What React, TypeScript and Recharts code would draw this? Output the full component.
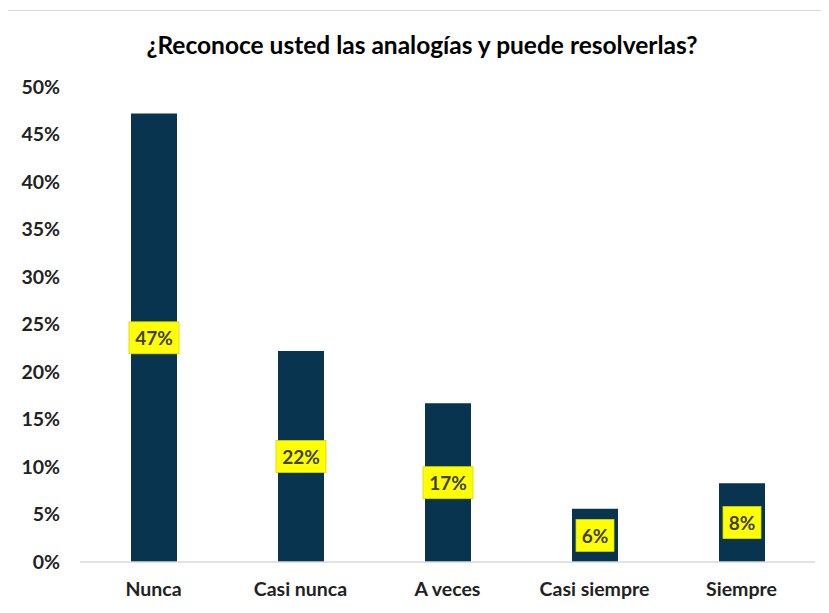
import React from "react";
import { BarChart, Bar, XAxis, YAxis, LabelList } from "recharts";

const categories = ["Nunca", "Casi nunca", "A veces", "Casi siempre", "Siempre"];
const values = [47.2, 22.2, 16.7, 5.6, 8.3];
const yTicks = [0, 5, 10, 15, 20, 25, 30, 35, 40, 45, 50];
const title = "¿Reconoce usted las analogías y puede resolverlas?";

const data = categories.map((c, i) => ({ name: c, value: values[i] }));

const FONT = "Lato, 'Open Sans', sans-serif";

const LabelBox = (props: any) => {
  const { x, y, width, height, value } = props;
  const cx = x + width / 2;
  const cy = y + height / 2;
  const text = `${Math.round(value)}%`;
  const w = text.length * 12 + 14;
  const h = 32;
  return (
    <g>
      <rect x={cx - w / 2} y={cy - h / 2} width={w} height={h} fill="#FFFF00" stroke="#d6d600" strokeWidth={0.8} />
      <text
        x={cx}
        y={cy}
        textAnchor="middle"
        dominantBaseline="central"
        fill="#404040"
        fontFamily={FONT}
        fontWeight={700}
        fontSize={19}
      >
        {text}
      </text>
    </g>
  );
};

export default function App() {
  return (
    <div style={{ position: "relative", width: 829, height: 613, margin: "-8px 0 0 -8px", background: "#fff" }}>
      <div
        style={{
          position: "absolute",
          left: 7,
          top: 10,
          width: 830,
          height: 610,
          borderTop: "1px solid #d9d9d9",
          borderLeft: "1px solid #d9d9d9",
        }}
      />
      <div
        style={{
          position: "absolute",
          left: 0,
          top: 30,
          width: 844,
          textAlign: "center",
          fontFamily: FONT,
          fontWeight: 700,
          fontSize: 24.5,
          color: "#000",
          lineHeight: "30px",
        }}
      >
        {title}
      </div>
      <div style={{ position: "absolute", left: 0, top: 0 }}>
        <BarChart width={829} height={613} data={data} margin={{ top: 87, right: 14, bottom: 21, left: 0 }}>
          <XAxis
            dataKey="name"
            height={30}
            axisLine={{ stroke: "#d9d9d9", strokeWidth: 1.5 }}
            tickLine={false}
            tickSize={0}
            tickMargin={20}
            tick={{ fill: "#222", fontFamily: FONT, fontWeight: 700, fontSize: 19.5 }}
          />
          <YAxis
            width={80}
            domain={[0, 50]}
            ticks={yTicks}
            interval={0}
            axisLine={false}
            tickLine={false}
            tickSize={0}
            tickMargin={20}
            tickFormatter={(v: number) => `${v}%`}
            tick={{ fill: "#222", fontFamily: FONT, fontWeight: 700, fontSize: 19.5 }}
          />
          <Bar dataKey="value" fill="#08344f" barSize={46} isAnimationActive={false}>
            <LabelList dataKey="value" content={<LabelBox />} />
          </Bar>
        </BarChart>
      </div>
    </div>
  );
}
